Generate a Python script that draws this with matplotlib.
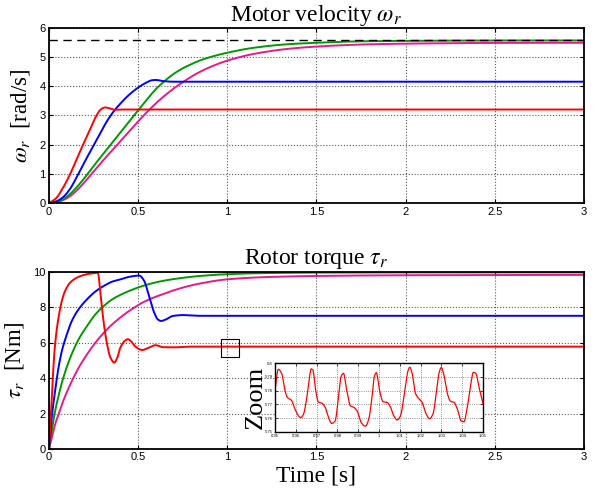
import numpy as np
import matplotlib.pyplot as plt
from matplotlib.patches import Rectangle

plt.rcParams['mathtext.fontset'] = 'stix'
plt.rcParams['font.family'] = 'Liberation Sans'
serif = 'Liberation Serif'

# --- motor velocity (rad/s) ---
w_red_t = [0, 0.04, 0.078, 0.119, 0.155, 0.191, 0.229, 0.267, 0.29, 0.314, 0.34, 0.37, 0.41, 0.5, 3.0]
w_red = [0, 0.17, 0.52, 1.0, 1.5, 2.0, 2.5, 3.0, 3.2, 3.27, 3.24, 3.19, 3.2, 3.2, 3.2]

w_blue_t = [0, 0.04, 0.078, 0.116, 0.163, 0.205, 0.248, 0.29, 0.325, 0.362, 0.4, 0.445, 0.5,
            0.54, 0.578, 0.6, 0.64, 0.7, 3.0]
w_blue = [0, 0.06, 0.2, 0.47, 0.98, 1.47, 1.95, 2.42, 2.8, 3.13, 3.4, 3.68, 3.95, 4.1, 4.2,
          4.21, 4.17, 4.15, 4.15]

w_green_t = [0, 0.04, 0.078, 0.116, 0.153, 0.191, 0.229, 0.267, 0.305, 0.343, 0.381, 0.419, 0.456,
             0.49, 0.524, 0.56, 0.6, 0.644, 0.68, 0.72, 0.774, 0.867, 1.0, 1.149, 1.337, 1.5,
             1.75, 2.0, 2.5, 3.0]
w_green = [0, 0.03, 0.13, 0.3, 0.53, 0.8, 1.1, 1.4, 1.69, 1.98, 2.27, 2.56, 2.84, 3.1, 3.35,
           3.62, 3.9, 4.15, 4.33, 4.5, 4.68, 4.92, 5.14, 5.31, 5.43, 5.48, 5.53, 5.545, 5.558, 5.56]

w_mag_t = [0, 0.04, 0.078, 0.116, 0.153, 0.191, 0.229, 0.267, 0.305, 0.343, 0.381, 0.419, 0.456,
           0.504, 0.551, 0.603, 0.65, 0.7, 0.757, 0.82, 0.9, 1.0, 1.149, 1.337, 1.5, 1.75, 2.0,
           2.5, 3.0]
w_mag = [0, 0.02, 0.1, 0.23, 0.42, 0.66, 0.93, 1.2, 1.47, 1.73, 1.99, 2.25, 2.5, 2.82, 3.12, 3.43,
         3.68, 3.92, 4.16, 4.4, 4.64, 4.87, 5.1, 5.27, 5.35, 5.42, 5.45, 5.475, 5.48]

w_ref = 5.57

# --- rotor torque (Nm) ---
t_red_t = [0, 0.015, 0.0245, 0.034, 0.053, 0.072, 0.09, 0.119, 0.166, 0.213, 0.26, 0.274, 0.289,
           0.308, 0.326, 0.345, 0.366, 0.383, 0.40, 0.425, 0.443, 0.46, 0.485, 0.522, 0.56, 0.597,
           0.64, 0.7, 0.8, 3.0]
t_red = [0, 2.7, 4.58, 5.9, 7.4, 8.36, 8.92, 9.4, 9.72, 9.87, 9.94, 9.96, 8.74, 7.04, 5.9, 5.15,
         4.88, 5.15, 5.72, 6.1, 6.2, 6.08, 5.78, 5.59, 5.72, 5.86, 5.75, 5.74, 5.78, 5.78]

t_blue_t = [0, 0.015, 0.034, 0.053, 0.072, 0.1, 0.128, 0.166, 0.213, 0.26, 0.308, 0.355, 0.402,
            0.449, 0.506, 0.534, 0.553, 0.572, 0.59, 0.61, 0.628, 0.657, 0.694, 0.75, 0.85, 3.0]
t_blue = [0, 1.75, 3.26, 4.58, 5.53, 6.47, 7.23, 7.89, 8.45, 8.89, 9.21, 9.45, 9.58, 9.72, 9.79,
          9.49, 8.92, 8.26, 7.7, 7.32, 7.23, 7.32, 7.51, 7.56, 7.52, 7.52]

t_green_t = [0, 0.015, 0.034, 0.053, 0.072, 0.119, 0.166, 0.213, 0.26, 0.308, 0.355, 0.449, 0.543,
             0.638, 0.732, 0.826, 1.0, 1.2, 1.5, 2.0, 3.0]
t_green = [0, 1.0, 2.13, 2.98, 3.74, 5.15, 6.19, 6.94, 7.6, 8.08, 8.45, 8.92, 9.26, 9.49, 9.64,
           9.75, 9.87, 9.93, 9.96, 9.97, 9.97]

t_mag_t = [0, 0.015, 0.034, 0.053, 0.072, 0.119, 0.166, 0.213, 0.26, 0.308, 0.355, 0.449, 0.543,
           0.638, 0.732, 0.826, 1.0, 1.2, 1.5, 2.0, 3.0]
t_mag = [0, 0.62, 1.38, 1.94, 2.51, 3.64, 4.58, 5.34, 6.0, 6.57, 7.04, 7.79, 8.36, 8.74, 9.06,
         9.3, 9.58, 9.7, 9.77, 9.81, 9.83]

# red torque ripple around t = 1 s
zoom_t = [0.95, 0.9516, 0.9532, 0.9548, 0.956, 0.957, 0.958, 0.9596, 0.9613, 0.9624, 0.9637,
          0.9653, 0.9666, 0.9674, 0.9682, 0.9696, 0.9709, 0.9725, 0.9741, 0.9757, 0.9773, 0.9789,
          0.9805, 0.9817, 0.9829, 0.9845, 0.9862, 0.9878, 0.9894, 0.9915, 0.9934, 0.995, 0.9966,
          0.9977, 0.9987, 1.0003, 1.0019, 1.0039, 1.0055, 1.0071, 1.0087, 1.0103, 1.0122, 1.0138,
          1.0148, 1.0159, 1.0175, 1.0191, 1.0207, 1.0223, 1.0243, 1.0259, 1.0275, 1.0288, 1.0299,
          1.0312, 1.0328, 1.0344, 1.036, 1.0376, 1.0395, 1.0408, 1.0424, 1.0441, 1.0453, 1.0465,
          1.048, 1.05]
zoom_tau = [5.780, 5.7955, 5.7926, 5.780, 5.775, 5.774, 5.7728, 5.7666, 5.7617, 5.7604, 5.7629,
            5.775, 5.790, 5.7958, 5.795, 5.780, 5.7716, 5.771, 5.768, 5.7604, 5.7562, 5.758,
            5.775, 5.790, 5.7926, 5.780, 5.769, 5.768, 5.7655, 5.7567, 5.7542, 5.759, 5.775,
            5.790, 5.793, 5.780, 5.772, 5.7715, 5.768, 5.7617, 5.7587, 5.7617, 5.778, 5.7938,
            5.797, 5.7926, 5.778, 5.7743, 5.7716, 5.7642, 5.7597, 5.763, 5.778, 5.7926, 5.7968,
            5.7913, 5.778, 5.7722, 5.7716, 5.7667, 5.758, 5.7574, 5.768, 5.785, 5.7933, 5.7926,
            5.7827, 5.7703]

c_red = '#ff0000'
c_blue = '#0000ff'
c_green = '#009900'
c_mag = '#e8198b'
lw = 1.4


def pchip(t, v, n=2000):
    # shape-preserving cubic through the sampled points
    t = np.asarray(t, float)
    v = np.asarray(v, float)
    h = np.diff(t)
    d = np.diff(v) / h
    m = np.zeros_like(v)
    for k in range(1, len(v) - 1):
        if d[k - 1] * d[k] > 0:
            w1 = 2 * h[k] + h[k - 1]
            w2 = h[k] + 2 * h[k - 1]
            m[k] = (w1 + w2) / (w1 / d[k - 1] + w2 / d[k])
    m[0] = d[0]
    m[-1] = d[-1]
    tt = np.linspace(t[0], t[-1], n)
    i = np.clip(np.searchsorted(t, tt, side='right') - 1, 0, len(h) - 1)
    s = (tt - t[i]) / h[i]
    vv = ((2 * s**3 - 3 * s**2 + 1) * v[i] + (s**3 - 2 * s**2 + s) * h[i] * m[i]
          + (-2 * s**3 + 3 * s**2) * v[i + 1] + (s**3 - s**2) * h[i] * m[i + 1])
    return tt, vv


def style(ax, ylim, yticks):
    ax.set_xlim(0, 3)
    ax.set_ylim(*ylim)
    ax.set_xticks([0, 0.5, 1, 1.5, 2, 2.5, 3])
    ax.set_xticklabels(['0', '0.5', '1', '1.5', '2', '2.5', '3'])
    ax.set_yticks(yticks)
    ax.tick_params(direction='in', top=True, right=True, labelsize=8, length=3, width=0.8, pad=2.5)
    ax.grid(True, linestyle=':', color='0.35', linewidth=0.8)
    for sp in ax.spines.values():
        sp.set_linewidth(1.3)


fig = plt.figure(figsize=(6.05, 4.92), dpi=100)

ax1 = fig.add_axes([0.081, 0.587, 0.884, 0.357])
ax1.axhline(w_ref, color='k', linestyle=(0, (6, 4)), linewidth=1.0, zorder=3)
for t, v, c in [(w_mag_t, w_mag, c_mag), (w_green_t, w_green, c_green),
                (w_blue_t, w_blue, c_blue), (w_red_t, w_red, c_red)]:
    ax1.plot(*pchip(t, v), color=c, linewidth=lw)
style(ax1, (0, 6), range(7))
ax1.set_title(r'Motor velocity $\omega_r$', family=serif, fontsize=17, pad=5)
ax1.set_ylabel(r'$\omega_r$  [rad/s]', family=serif, fontsize=16.5, labelpad=5)

ax2 = fig.add_axes([0.081, 0.0874, 0.884, 0.36])
for t, v, c in [(t_mag_t, t_mag, c_mag), (t_green_t, t_green, c_green),
                (t_blue_t, t_blue, c_blue), (t_red_t, t_red, c_red)]:
    ax2.plot(*pchip(t, v), color=c, linewidth=lw)
style(ax2, (0, 10), range(0, 11, 2))
ax2.add_patch(Rectangle((0.965, 5.2), 0.1, 1.0, fill=False, edgecolor='k', linewidth=0.8, zorder=4))
ax2.set_title(r'Rotor torque $\tau_r$', family=serif, fontsize=17, pad=6)
ax2.set_ylabel(r'$\tau_r$  [Nm]', family=serif, fontsize=16.5, labelpad=5)
ax2.set_xlabel('Time [s]', family=serif, fontsize=17, labelpad=2)

ax3 = fig.add_axes([0.4545, 0.122, 0.344, 0.140])
ax3.plot(*pchip(zoom_t, zoom_tau), color=c_red, linewidth=0.9)
ax3.set_xlim(0.95, 1.05)
ax3.set_ylim(5.75, 5.80)
ax3.set_xticks(np.round(np.arange(0.95, 1.0501, 0.01), 2))
ax3.set_xticklabels(['0.95', '0.96', '0.97', '0.98', '0.99', '1', '1.01', '1.02', '1.03', '1.04', '1.05'])
ax3.set_yticks([5.75, 5.76, 5.77, 5.78, 5.79, 5.8])
ax3.set_yticklabels(['5.75', '5.76', '5.77', '5.78', '5.79', '5.8'])
ax3.tick_params(direction='in', top=True, right=True, labelsize=3, length=2, width=0.5, pad=1.5)
ax3.grid(True, linestyle=':', color='0.45', linewidth=0.6)
for sp in ax3.spines.values():
    sp.set_linewidth(1.0)
ax3.set_ylabel('Zoom', family=serif, fontsize=19, labelpad=-1)

fig.savefig('out.png', dpi=100)
